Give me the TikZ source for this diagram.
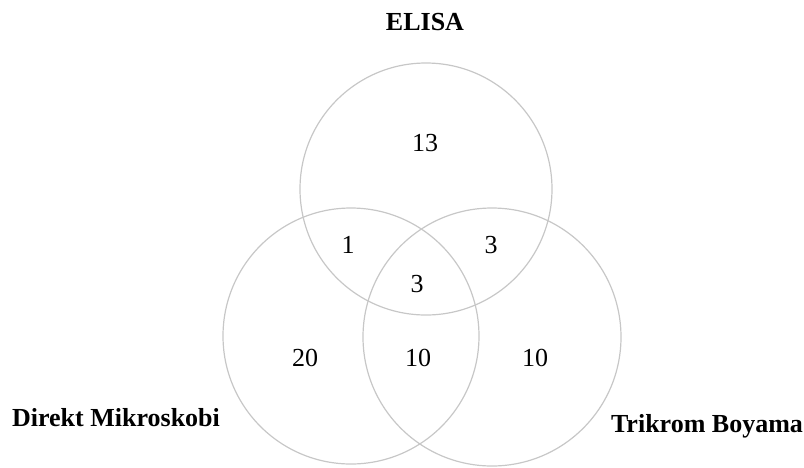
\documentclass[tikz,border=0pt]{standalone}
\usepackage{fontspec}
\setmainfont{Liberation Serif}
\begin{document}
\begin{tikzpicture}[x=1pt,y=-1pt,
  setring/.style={circle,draw=black!22,line width=1.2pt,inner sep=0pt,minimum size=#1},
  count/.style={anchor=base,inner sep=0pt,font=\fontsize{26}{30}\selectfont},
  setname/.style={anchor=base,inner sep=0pt,font=\fontsize{26}{30}\selectfont\bfseries}]
\useasboundingbox (0,0) rectangle (804,467);
% the three sets
\node[setring=252pt] (elisa) at (426,189) {};
\node[setring=256pt] (direkt) at (351,336) {};
\node[setring=258pt] (trikrom) at (492,337) {};
% region counts
\node[count] (n13) at (425,151) {13};
\node[count] (n1) at (348,253) {1};
\node[count] (n3a) at (491,253) {3};
\node[count] (n3b) at (417,292) {3};
\node[count] (n20) at (305,366) {20};
\node[count] (n10a) at (418,366) {10};
\node[count] (n10b) at (535,366) {10};
% set names
\node[setname] (lelisa) at (425,30) {ELISA};
\node[setname] (ldirekt) at (116,426) {Direkt Mikroskobi};
\node[setname] (ltrikrom) at (707,432) {Trikrom Boyama};
\end{tikzpicture}
\end{document}
